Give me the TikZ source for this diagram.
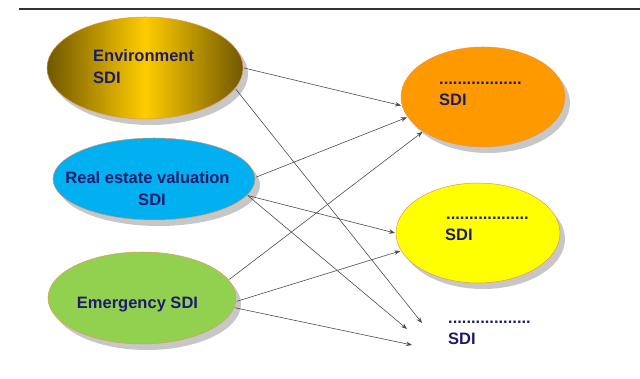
\documentclass[tikz,border=0pt]{standalone}
\usepackage{fontspec}
\setmainfont{Liberation Sans}
\usetikzlibrary{shapes.geometric,shadows,arrows.meta}
\definecolor{navy}{RGB}{28,28,110}
\definecolor{rim}{RGB}{230,150,90}
\definecolor{envdark}{RGB}{112,88,0}
\definecolor{envgold}{RGB}{255,204,0}
\definecolor{skyblue}{RGB}{0,176,240}
\definecolor{leaf}{RGB}{146,208,80}
\definecolor{orng}{RGB}{255,153,0}
\definecolor{yell}{RGB}{255,255,0}
\begin{document}
\begin{tikzpicture}[x=1pt,y=1pt,
  blob/.style={ellipse, inner sep=0pt, outer sep=1pt, draw=rim, line width=0.5pt,
    drop shadow={shadow xshift=5pt, shadow yshift=-6pt, fill=black!22, opacity=1}},
  lbl/.style={text=navy, font=\bfseries\fontsize{16.5}{19}\selectfont, inner sep=0pt},
  link/.style={draw=black!70, line width=0.6pt, -{Stealth[length=6pt,width=4.5pt]}}]
\useasboundingbox (0,0) rectangle (640,379);
\draw[line width=2.8pt, black!80] (19,370) -- (640,370);

\node[blob, minimum width=196pt, minimum height=102pt, left color=envdark, right color=envdark, middle color=envgold] (env) at (145,311) {};
\node[blob, minimum width=202pt, minimum height=82pt, fill=skyblue] (blue) at (154,200) {};
\node[blob, minimum width=188pt, minimum height=92pt, fill=leaf] (grn) at (142,81) {};
\node[blob, minimum width=164pt, minimum height=100pt, fill=orng] (org) at (483,282) {};
\node[blob, minimum width=164pt, minimum height=100pt, fill=yell] (yel) at (478,146) {};

\node[lbl, anchor=base west] (envt1) at (93,317) {Environment};
\node[lbl, anchor=base west] (envt2) at (93,295) {SDI};
\node[lbl, anchor=base] (bluet1) at (147.5,195) {Real estate valuation};
\node[lbl, anchor=base] (bluet2) at (152,173) {SDI};
\node[lbl, anchor=base] (grnt) at (137.5,70.7) {Emergency SDI};
\node[lbl, anchor=base west] (orgd) at (439,294.5) {..................};
\node[lbl, anchor=base west] (orgt) at (439,273) {SDI};
\node[lbl, anchor=base west] (yeld) at (446,159.5) {..................};
\node[lbl, anchor=base west] (yelt) at (445,138) {SDI};
\node[lbl, anchor=base west] (botd) at (448,55.5) {..................};
\node[lbl, anchor=base west] (bott) at (448,34) {SDI};

\coordinate (b1) at (422,56);
\coordinate (b2) at (407,50);
\coordinate (b3) at (412,34);

\draw[link] (env.-0.6) -- (org.186.3);
\draw[link] (env.-13.5) -- (b1);
\draw[link] (blue.1.1) -- (org.195.8);
\draw[link] (blue.-10.8) -- (yel.180);
\draw[link] (blue.-10.8) -- (b2);
\draw[link] (grn.12) -- (org.210.6);
\draw[link] (grn.-2.9) -- (yel.193.2);
\draw[link] (grn.-6.7) -- (b3);
\end{tikzpicture}
\end{document}
